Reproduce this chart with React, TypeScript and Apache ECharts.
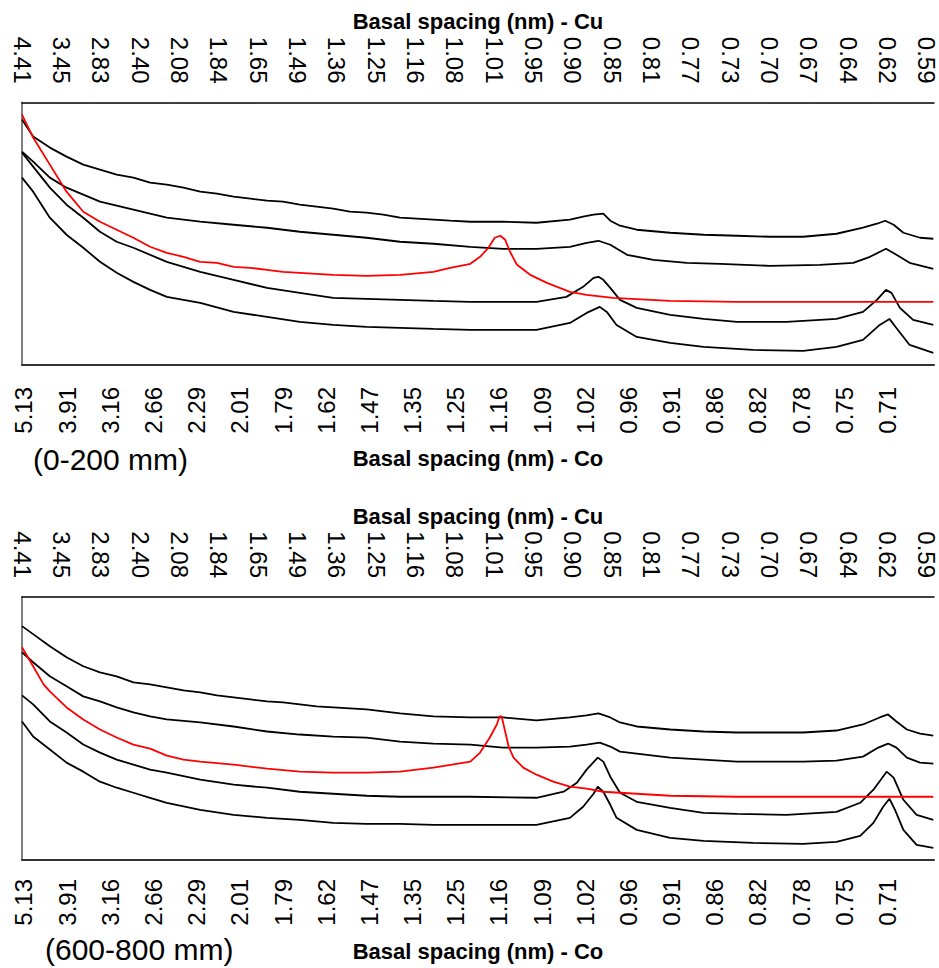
import React, { useEffect, useRef } from "react";
import * as echarts from "echarts";

// Tick labels (basal spacing, nm)
const CU_LABELS = ["4.41","3.45","2.83","2.40","2.08","1.84","1.65","1.49","1.36","1.25","1.16","1.08","1.01","0.95","0.90","0.85","0.81","0.77","0.73","0.70","0.67","0.64","0.62","0.59"];
const CO_LABELS = ["5.13","3.91","3.16","2.66","2.29","2.01","1.79","1.62","1.47","1.35","1.25","1.16","1.09","1.02","0.96","0.91","0.86","0.82","0.78","0.75","0.71"];

const PANEL_LABELS = ["(0-200 mm)", "(600-800 mm)"];

// Patterns: [2theta (Cu, deg), intensity (a.u.)]
const P1_A = [[2.00,245],[2.16,228],[2.40,217],[2.64,208],[2.88,200],[3.12,195],[3.36,190],[3.60,187],[3.84,182],[4.08,180],[4.32,177],[4.56,173],[4.80,171],[5.04,168],[5.28,166],[5.52,164],[5.75,163],[5.99,160],[6.23,158],[6.47,156],[6.71,153],[6.95,152],[7.19,150],[7.43,147],[7.67,146],[7.91,145],[8.15,144],[8.44,143],[8.91,143],[9.39,142],[9.87,145],[10.06,148],[10.21,150],[10.35,151],[10.45,144],[10.59,139],[10.83,135],[11.31,132],[11.79,130],[12.27,129],[12.74,128],[13.22,128],[13.70,131],[14.08,137],[14.28,141],[14.40,144],[14.52,140],[14.66,132],[14.90,127],[15.09,126]];
const P1_B = [[2.00,213],[2.16,203],[2.40,187],[2.64,177],[2.88,170],[3.12,163],[3.60,155],[4.08,147],[4.56,143],[5.04,140],[5.52,137],[5.99,133],[6.47,130],[6.95,127],[7.43,123],[7.91,121],[8.44,118],[8.91,116],[9.39,116],[9.87,118],[10.11,122],[10.28,124],[10.45,120],[10.69,110],[11.07,105],[11.55,102],[12.03,101],[12.74,99],[13.46,100],[13.94,102],[14.18,108],[14.41,116],[14.56,110],[14.75,102],[15.09,96]];
const P1_RED = [[2.00,250],[2.16,227],[2.40,200],[2.64,173],[2.88,153],[3.12,143],[3.36,135],[3.60,127],[3.84,118],[4.08,112],[4.32,108],[4.56,103],[4.80,102],[5.04,98],[5.28,97],[5.52,95],[5.75,93],[5.99,92],[6.23,91],[6.47,90],[6.95,89],[7.43,90],[7.91,93],[8.15,97],[8.44,101],[8.58,108],[8.70,117],[8.79,127],[8.87,129],[8.94,125],[9.01,113],[9.11,100],[9.30,90],[9.54,82],[9.87,73],[10.11,70],[10.49,67],[11.31,64],[12.27,63],[13.50,63],[15.09,63]];
const P1_C = [[2.00,212],[2.16,198],[2.40,177],[2.64,160],[2.88,147],[3.12,133],[3.36,123],[3.60,117],[4.08,103],[4.56,93],[5.04,85],[5.52,77],[5.99,72],[6.47,67],[6.95,66],[7.43,65],[7.91,64],[8.44,63],[9.39,63],[9.82,68],[10.06,78],[10.21,87],[10.28,88],[10.35,85],[10.45,77],[10.59,65],[10.83,57],[11.31,50],[11.79,46],[12.27,43],[12.98,43],[13.70,46],[14.08,53],[14.28,65],[14.41,75],[14.49,72],[14.61,57],[14.80,45],[15.09,40]];
const P1_D = [[2.00,187],[2.16,173],[2.40,147],[2.64,130],[2.88,117],[3.12,103],[3.36,92],[3.60,83],[3.84,75],[4.08,68],[4.56,62],[5.04,53],[5.52,48],[5.99,43],[6.47,40],[6.95,38],[7.43,37],[7.91,36],[8.44,35],[9.39,35],[9.87,42],[10.11,52],[10.30,58],[10.40,53],[10.54,40],[10.83,28],[11.31,22],[11.79,18],[12.50,15],[13.22,14],[13.70,18],[14.08,25],[14.32,40],[14.46,46],[14.56,37],[14.75,20],[15.09,12]];

const P2_A = [[2.00,233],[2.16,225],[2.40,213],[2.64,202],[2.88,193],[3.12,187],[3.36,183],[3.60,177],[3.84,175],[4.08,172],[4.32,169],[4.56,167],[4.80,164],[5.04,162],[5.28,160],[5.52,158],[5.75,157],[5.99,155],[6.23,153],[6.47,152],[6.95,150],[7.43,146],[7.91,143],[8.44,142],[8.91,142],[9.39,139],[9.87,142],[10.11,144],[10.28,146],[10.45,142],[10.59,137],[10.83,133],[11.31,130],[11.79,128],[12.27,127],[12.74,127],[13.22,127],[13.70,129],[14.08,135],[14.32,142],[14.44,145],[14.56,138],[14.71,130],[14.90,126],[15.09,124]];
const P2_B = [[2.00,207],[2.16,197],[2.40,183],[2.64,173],[2.88,163],[3.12,158],[3.36,152],[3.60,147],[3.84,143],[4.08,140],[4.56,137],[5.04,133],[5.52,128],[5.99,125],[6.47,123],[6.95,122],[7.43,118],[7.91,116],[8.44,115],[8.91,112],[9.39,112],[9.87,113],[10.11,115],[10.30,117],[10.45,113],[10.59,108],[10.83,106],[11.31,102],[11.79,100],[12.27,98],[12.74,98],[13.22,98],[13.70,99],[14.08,103],[14.30,112],[14.44,116],[14.56,112],[14.71,102],[14.90,97],[15.09,96]];
const P2_RED = [[2.00,212],[2.16,193],[2.31,175],[2.40,168],[2.64,152],[2.88,140],[3.12,130],[3.36,122],[3.60,115],[3.84,111],[4.08,104],[4.32,100],[4.56,98],[5.04,95],[5.52,91],[5.99,88],[6.47,87],[6.95,87],[7.43,88],[7.91,92],[8.44,98],[8.58,107],[8.72,122],[8.82,135],[8.86,143],[8.89,143],[8.94,128],[8.99,113],[9.06,102],[9.20,92],[9.39,85],[9.63,78],[9.87,73],[10.11,71],[10.35,68],[10.83,66],[11.31,64],[12.27,63],[13.50,63],[15.09,63]];
const P2_C = [[2.00,164],[2.16,155],[2.40,138],[2.64,127],[2.88,115],[3.12,107],[3.36,100],[3.60,95],[3.84,90],[4.08,87],[4.56,80],[5.04,75],[5.52,72],[5.99,68],[6.47,66],[6.95,64],[7.43,63],[7.91,63],[8.44,63],[9.39,62],[9.78,68],[9.97,77],[10.11,90],[10.27,102],[10.35,98],[10.45,83],[10.59,67],[10.83,58],[11.31,52],[11.79,47],[12.27,46],[12.98,45],[13.70,48],[14.04,57],[14.23,70],[14.42,88],[14.52,82],[14.66,60],[14.85,45],[15.09,40]];
const P2_D = [[2.00,138],[2.16,123],[2.40,110],[2.64,97],[2.88,88],[3.12,78],[3.36,72],[3.60,67],[3.84,62],[4.08,57],[4.56,50],[5.04,45],[5.52,42],[5.99,40],[6.47,37],[6.95,36],[7.43,36],[7.91,35],[8.44,35],[9.39,35],[9.87,42],[10.06,53],[10.21,66],[10.27,73],[10.35,68],[10.45,55],[10.54,42],[10.83,30],[11.31,22],[11.79,19],[12.50,17],[13.22,16],[13.70,18],[14.04,24],[14.23,37],[14.37,53],[14.46,61],[14.54,50],[14.66,30],[14.85,15],[15.09,12]];

const PANELS = [
  { black: [P1_A, P1_B, P1_C, P1_D], red: P1_RED },
  { black: [P2_A, P2_B, P2_C, P2_D], red: P2_RED },
];

const FONT = "'Liberation Sans', Arial, Helvetica, sans-serif";

export default function App() {
  const ref = useRef<HTMLDivElement>(null);
  useEffect(() => {
    if (!ref.current) return;
    const chart = echarts.init(ref.current, undefined, { renderer: "svg" });
    const grids = [
      { left: 22, top: 102.5, width: 912, height: 262.5 },
      { left: 22, top: 597, width: 912, height: 263 },
    ];
    const cuIdx = CU_LABELS.map((_, i) => i);
    const coIdx = CO_LABELS.map((_, i) => i);
    const xAxis: any[] = [];
    const yAxis: any[] = [];
    const series: any[] = [];
    const topMargin = [19, 19];
    const botMargin = [22, 19];
    const topGap = [70, 70];
    const botGap = [82, 80];
    PANELS.forEach((p, g) => {
      const base = xAxis.length;
      xAxis.push({ gridIndex: g, type: "value", min: 2.0, max: 15.1, show: false });
      xAxis.push({
        gridIndex: g, type: "value", position: "top", min: 0, max: 23.18,
        axisLine: { onZero: false, lineStyle: { color: "#000", width: 1.5 } },
        axisTick: { show: false }, splitLine: { show: false },
        axisLabel: {
          customValues: cuIdx, formatter: (v: number) => CU_LABELS[Math.round(v)] ?? "",
          rotate: 90, margin: topMargin[g], fontSize: 24, color: "#000", fontFamily: FONT,
        },
        name: "Basal spacing (nm) - Cu", nameLocation: "middle", nameGap: topGap[g],
        nameTextStyle: { fontWeight: "bold", fontSize: 22, color: "#000", fontFamily: FONT },
      });
      xAxis.push({
        gridIndex: g, type: "value", position: "bottom", min: -0.046, max: 21.08,
        axisLine: { onZero: false, lineStyle: { color: "#333", width: 2 } },
        axisTick: { show: false }, splitLine: { show: false },
        axisLabel: {
          customValues: coIdx, formatter: (v: number) => CO_LABELS[Math.round(v)] ?? "",
          rotate: 90, margin: botMargin[g], fontSize: 24, color: "#000", fontFamily: FONT,
        },
        name: "Basal spacing (nm) - Co", nameLocation: "middle", nameGap: botGap[g],
        nameTextStyle: { fontWeight: "bold", fontSize: 22, color: "#000", fontFamily: FONT },
      });
      yAxis.push({
        gridIndex: g, type: "value", min: 0, max: 262,
        axisLine: { show: true, onZero: false, lineStyle: { color: "#808080", width: 2 } },
        axisTick: { show: false }, axisLabel: { show: false }, splitLine: { show: false },
      });
      p.black.forEach((d) => {
        series.push({
          type: "line", xAxisIndex: base, yAxisIndex: g, data: d, showSymbol: false,
          lineStyle: { color: "#000", width: 1.8 }, z: 2,
        });
      });
      series.push({
        type: "line", xAxisIndex: base, yAxisIndex: g, data: p.red, showSymbol: false,
        lineStyle: { color: "#ff0000", width: 1.8 }, z: 3,
      });
    });
    chart.setOption({
      animation: false,
      grid: grids,
      xAxis, yAxis, series,
      graphic: [
        { type: "text", left: 33, top: 444, style: { text: PANEL_LABELS[0], fontSize: 30, fill: "#000", fontFamily: FONT } },
        { type: "text", left: 45, top: 934, style: { text: PANEL_LABELS[1], fontSize: 30, fill: "#000", fontFamily: FONT } },
      ],
    });
    return () => chart.dispose();
  }, []);
  return (
    <div
      ref={ref}
      style={{ position: "absolute", left: 0, top: 0, width: 939, height: 968, background: "#fff" }}
    />
  );
}
